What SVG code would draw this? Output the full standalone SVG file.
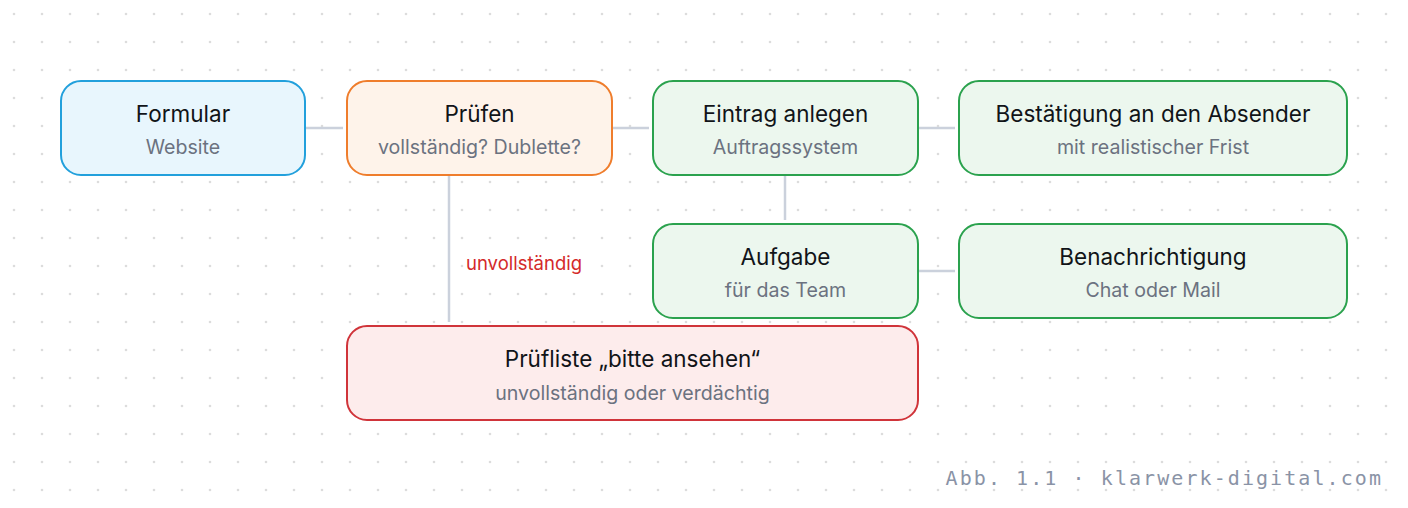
<svg xmlns="http://www.w3.org/2000/svg" width="1408" height="508" viewBox="0 0 1408 508">
<defs>
<pattern id="dots" x="0" y="0" width="28" height="28" patternUnits="userSpaceOnUse">
<circle cx="14" cy="14" r="1.3" fill="#dcdcdc"/>
</pattern>
<style>
.t{font-family:Inter,"Liberation Sans",sans-serif;font-size:22.5px;fill:#111418;text-anchor:middle}
.s{font-family:Inter,"Liberation Sans",sans-serif;font-size:19.6px;fill:#6b7280;text-anchor:middle}
.blue{fill:#e8f6fd;stroke:#22a0dc;stroke-width:2}
.orange{fill:#fef3ea;stroke:#ef7d2c;stroke-width:2}
.green{fill:#ecf7ee;stroke:#2ba24e;stroke-width:2}
.red{fill:#fdecec;stroke:#d0343a;stroke-width:2}
.c{stroke:#cbd1dc;stroke-width:2.5;fill:none}
</style>
</defs>
<rect width="1408" height="508" fill="#ffffff"/>
<rect width="1408" height="508" fill="url(#dots)"/>
<g id="connectors">
<line class="c" x1="305" y1="128" x2="343" y2="128"/>
<line class="c" x1="612" y1="128" x2="649" y2="128"/>
<line class="c" x1="918" y1="128" x2="955" y2="128"/>
<line class="c" x1="785" y1="175" x2="785" y2="220"/>
<line class="c" x1="918" y1="271" x2="955" y2="271"/>
<line class="c" x1="449" y1="175" x2="449" y2="322"/>
<text x="466" y="270" style="font-family:Inter,'Liberation Sans',sans-serif;font-size:18.5px;fill:#d42a2a">unvollständig</text>
</g>
<g id="formular">
<rect class="blue" x="61" y="81" width="244" height="94" rx="20"/>
<text class="t" x="183" y="122">Formular</text>
<text class="s" x="183" y="154">Website</text>
</g>
<g id="pruefen">
<rect class="orange" x="347" y="81" width="265" height="94" rx="20"/>
<text class="t" x="479.5" y="122">Prüfen</text>
<text class="s" x="479.5" y="154">vollständig? Dublette?</text>
</g>
<g id="eintrag">
<rect class="green" x="653" y="81" width="265" height="94" rx="20"/>
<text class="t" x="785.5" y="122">Eintrag anlegen</text>
<text class="s" x="785.5" y="154">Auftragssystem</text>
</g>
<g id="bestaetigung">
<rect class="green" x="959" y="81" width="388" height="94" rx="20"/>
<text class="t" x="1153" y="122">Bestätigung an den Absender</text>
<text class="s" x="1153" y="154">mit realistischer Frist</text>
</g>
<g id="aufgabe">
<rect class="green" x="653" y="224" width="265" height="94" rx="20"/>
<text class="t" x="785.5" y="265">Aufgabe</text>
<text class="s" x="785.5" y="297">für das Team</text>
</g>
<g id="benachrichtigung">
<rect class="green" x="959" y="224" width="388" height="94" rx="20"/>
<text class="t" x="1153" y="265">Benachrichtigung</text>
<text class="s" x="1153" y="297">Chat oder Mail</text>
</g>
<g id="pruefliste">
<rect class="red" x="347" y="326" width="571" height="94" rx="20"/>
<text class="t" x="632.5" y="367">Prüfliste „bitte ansehen“</text>
<text class="s" x="632.5" y="400">unvollständig oder verdächtig</text>
</g>
<text x="1383" y="485" text-anchor="end" style="font-family:'DejaVu Sans Mono','Liberation Mono',monospace;font-size:20px;letter-spacing:2.07px;fill:#8a93a6">Abb. 1.1 · klarwerk-digital.com</text>
</svg>
